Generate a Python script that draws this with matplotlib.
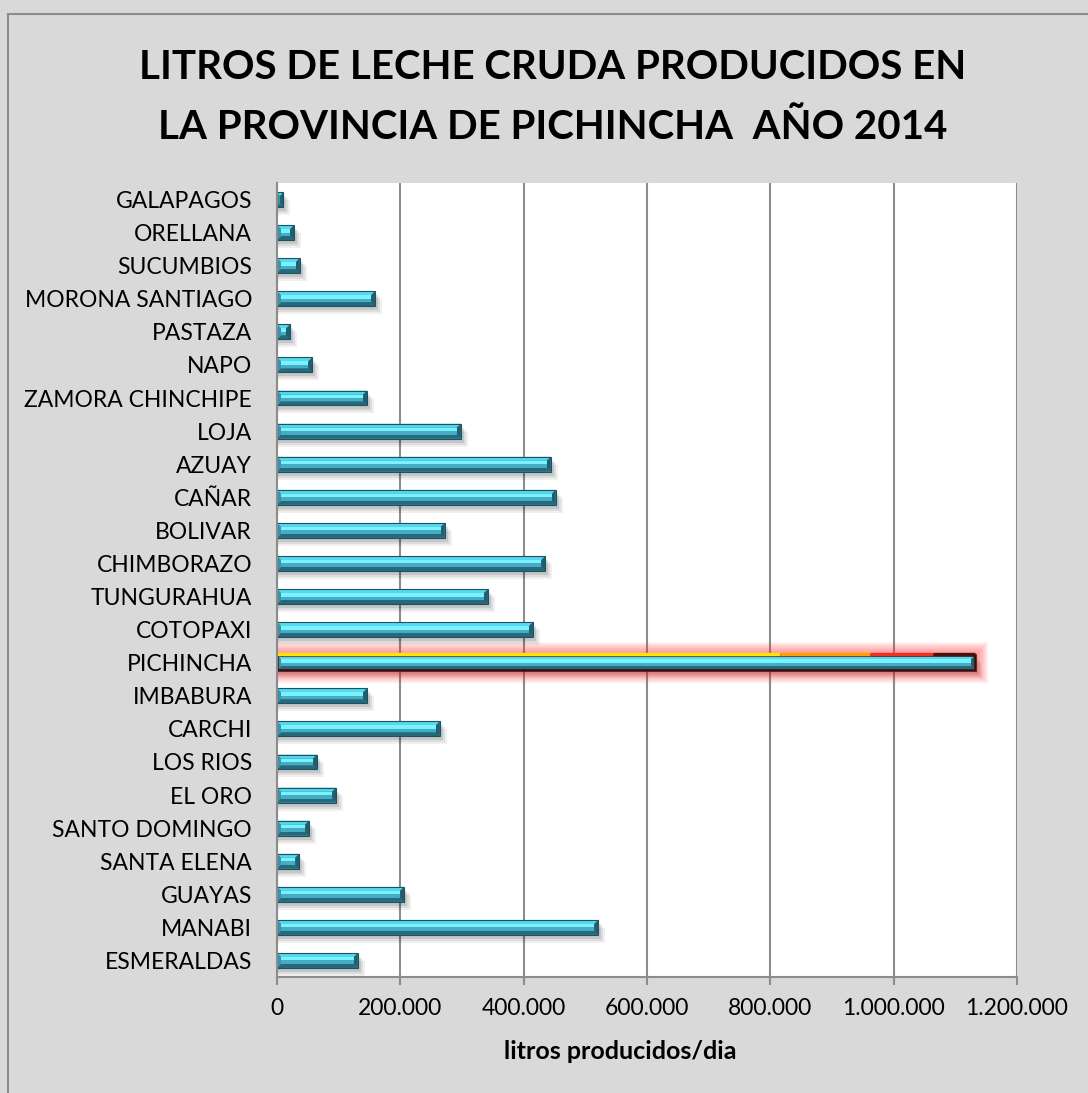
#!/usr/bin/python3

"""Litros de leche cruda por provincia, 2014 (barras horizontales)."""

import matplotlib.pyplot as plt
from matplotlib.patches import FancyBboxPatch, Polygon, Rectangle
from matplotlib.ticker import FuncFormatter

PROVINCIAS = [
    'ESMERALDAS', 'MANABI', 'GUAYAS', 'SANTA ELENA', 'SANTO DOMINGO',
    'EL ORO', 'LOS RIOS', 'CARCHI', 'IMBABURA', 'PICHINCHA', 'COTOPAXI',
    'TUNGURAHUA', 'CHIMBORAZO', 'BOLIVAR', 'CAÑAR', 'AZUAY', 'LOJA',
    'ZAMORA CHINCHIPE', 'NAPO', 'PASTAZA', 'MORONA SANTIAGO', 'SUCUMBIOS',
    'ORELLANA', 'GALAPAGOS',
]
LITROS = [
    131000, 521000, 206000, 36000, 52000,
    96000, 65000, 264000, 146000, 1132000, 415000,
    342000, 435000, 272000, 452000, 444000, 298000,
    146000, 57000, 21000, 159000, 37000,
    27500, 10000,
]
RESALTADA = 'PICHINCHA'

TITULO = ['LITROS DE LECHE CRUDA PRODUCIDOS EN',
          'LA PROVINCIA DE PICHINCHA  AÑO 2014']
EJE_X = 'litros producidos/dia'

X_MAX = 1200000
FONT = ['Lato', 'DejaVu Sans']

W, H = 10.88, 10.93
AX_RECT = [0.2546, 0.1061, 0.6801, 0.7265]


def miles(x, _pos):
    return f'{int(x):,}'.replace(',', '.')


def bar_3d(ax, y, value, h, sx, sy, glow=False):
    """Bar with bevelled edges; sx/sy are data units per pixel."""
    y0, y1 = y - h / 2, y + h / 2
    b = 4
    bx = min(b * sx, value / 2)
    by = b * sy

    # soft drop shadow
    for i, a in enumerate([0.10, 0.08, 0.06]):
        ax.add_patch(Rectangle((0, y0 - (4 + i * 2) * sy), value + (3 + i * 2) * sx,
                               h, color='black', alpha=a, lw=0, zorder=2))

    if glow:
        for i in range(1, 13):
            ax.add_patch(FancyBboxPatch((0, y0), value, h,
                                        boxstyle=f'round,pad=0,rounding_size={i * 1.2 * sy}',
                                        mutation_aspect=1, color='#ff2a2a', alpha=0.055, lw=0,
                                        zorder=2.5))
            ax.patches[-1].set_bounds(-i * 1.1 * sx, y0 - i * 1.1 * sy,
                                      value + i * 2.2 * sx, h + i * 2.2 * sy)

    ax.add_patch(Rectangle((0, y0), value, h, color='#3c9fb6', lw=0, zorder=3))
    # bevels: top, bottom, left, right
    ax.add_patch(Polygon([(0, y1), (value, y1), (value - bx, y1 - by), (bx, y1 - by)],
                         closed=True, color='#58d8ec', lw=0, zorder=3.1))
    ax.add_patch(Polygon([(0, y0), (value, y0), (value - bx, y0 + by), (bx, y0 + by)],
                         closed=True, color='#27687a', lw=0, zorder=3.1))
    ax.add_patch(Polygon([(0, y0), (0, y1), (bx, y1 - by), (bx, y0 + by)],
                         closed=True, color='#3a95ab', lw=0, zorder=3.1))
    ax.add_patch(Polygon([(value, y0), (value, y1), (value - bx, y1 - by), (value - bx, y0 + by)],
                         closed=True, color='#245e6e', lw=0, zorder=3.1))
    # face, lighter on the upper half
    if value > 2 * bx:
        ax.add_patch(Rectangle((bx, y), value - 2 * bx, y1 - by - y,
                               color='#78f2ff', lw=0, zorder=3.2))
        ax.add_patch(Rectangle((bx, y0 + by), value - 2 * bx, y - y0 - by,
                               color='#45acc4', lw=0, zorder=3.2))
    edge = '#3a0d0d' if glow else '#1a5364'
    ax.add_patch(Rectangle((0, y0), value, h, fill=False, ec=edge,
                           lw=1.8 if glow else 0.8, zorder=3.5))
    if glow:
        top = y1 + 0.8 * sy
        for xa, xb, c in [(0, 0.72, '#ffe600'), (0.72, 0.85, '#ffa000'),
                          (0.85, 0.94, '#f03020'), (0.94, 1.0, '#4a1010')]:
            ax.plot([value * xa, value * xb], [top, top], color=c, lw=2.4,
                    solid_capstyle='butt', zorder=3.6)


def main():
    plt.rcParams['font.family'] = FONT

    fig = plt.figure(figsize=(W, H), dpi=100, facecolor='#d9d9d9')
    fig.patches.append(Rectangle((8 / 1088, -0.01), 1.1, (1093 - 14) / 1093 + 0.01,
                                 transform=fig.transFigure, fill=False,
                                 ec='#8c8c8c', lw=1.5))
    ax = fig.add_axes(AX_RECT)
    ax.set_facecolor('white')

    n = len(PROVINCIAS)
    ax.set_xlim(0, X_MAX)
    ax.set_ylim(-0.5, n - 0.5)

    sx = X_MAX / (AX_RECT[2] * W * 100)
    sy = n / (AX_RECT[3] * H * 100)

    for i, (prov, val) in enumerate(zip(PROVINCIAS, LITROS)):
        bar_3d(ax, i, val, 0.45, sx, sy, glow=(prov == RESALTADA))

    ax.set_xticks(range(0, X_MAX + 1, 200000))
    ax.xaxis.set_major_formatter(FuncFormatter(miles))
    ax.grid(axis='x', color='#8c8c8c', lw=1.5, zorder=1)
    ax.set_axisbelow(True)
    ax.set_yticks(range(n))
    ax.set_yticklabels(PROVINCIAS)

    for side in ['top', 'right']:
        ax.spines[side].set_visible(False)
    for side in ['left', 'bottom']:
        ax.spines[side].set_color('#8c8c8c')
        ax.spines[side].set_linewidth(1.5)
        ax.spines[side].set_zorder(4)

    ax.tick_params(axis='y', length=0, pad=18, labelsize=16.5)
    ax.tick_params(axis='x', length=6, width=1.5, color='#8c8c8c', pad=9, labelsize=16.5)

    fig.text(620 / 1088, 1 - 1059 / 1093, EJE_X, ha='center', va='baseline',
             fontsize=18, fontweight='bold')

    for linea, base in zip(TITULO, [79, 139]):
        fig.text(553 / 1088, 1 - base / 1093, linea, ha='center', va='baseline',
                 fontsize=29, fontweight='bold')

    fig.savefig('out.png', dpi=100, facecolor=fig.get_facecolor())


if __name__ == '__main__':
    main()
